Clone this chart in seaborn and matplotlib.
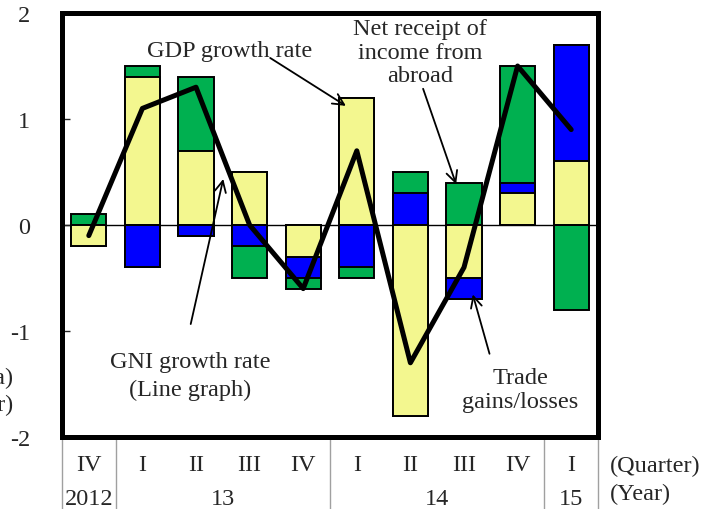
import numpy as np
import matplotlib
matplotlib.use('Agg')
import matplotlib.pyplot as plt
import seaborn as sns

quarters = ['IV', 'I', 'II', 'III', 'IV', 'I', 'II', 'III', 'IV', 'I']
years = ['2012', '13', '14', '15']
year_centers = [0, 2.5, 6.5, 9]
year_breaks = [-0.5, 0.5, 4.5, 8.5, 9.5]

gdp = np.array([-0.2, 1.4, 0.7, 0.5, -0.3, 1.2, -1.8, -0.5, 0.3, 0.6])
trade = np.array([0.0, -0.4, -0.1, -0.2, -0.2, -0.4, 0.3, -0.2, 0.1, 1.1])
income = np.array([0.1, 0.1, 0.7, -0.3, -0.1, -0.1, 0.2, 0.4, 1.1, -0.8])
gni = np.array([-0.1, 1.1, 1.3, 0.0, -0.6, 0.7, -1.3, -0.4, 1.5, 0.9])

yellow = '#F3F78F'
blue = '#0000FF'
green = '#00B050'

sns.set_style('white')
plt.rcParams['font.family'] = ['Liberation Serif', 'DejaVu Serif']
plt.rcParams['axes.unicode_minus'] = False
fs = 17.5

fig = plt.figure(figsize=(7.17, 5.10), dpi=100)
ax = fig.add_axes([62 / 717, 1 - 438 / 510, 536 / 717, 424 / 510])

x = np.arange(len(quarters))

# stacked bars: positive and negative parts stacked separately
py, pb, pg = gdp.clip(0), trade.clip(0), income.clip(0)
ny, nb, ng = gdp.clip(None, 0), trade.clip(None, 0), income.clip(None, 0)
layers = [
    (py + pb + pg, green), (ny + nb + ng, green),
    (py + pb, blue), (ny + nb, blue),
    (py, yellow), (ny, yellow),
]
ax.axhline(0, color='black', lw=1, zorder=0.5)
for vals, col in layers:
    sns.barplot(x=x, y=vals, native_scale=True, width=0.66, color=col,
                saturation=1, edgecolor='black', linewidth=1.4,
                errorbar=None, ax=ax)

sns.lineplot(x=x, y=gni, color='black', lw=3.6, ax=ax, zorder=5)

ax.set_xlim(-0.5, 9.5)
ax.set_ylim(-2, 2)
ax.set_xticks([])
ax.set_yticks([-2, -1, 0, 1, 2])
ax.set_yticklabels(['-2', '-1', '0', '1', '2'])
ax.tick_params(axis='y', direction='in', length=6, width=1, pad=23,
               labelsize=fs, left=True)
ax.set_xlabel('')
ax.set_ylabel('')
for s in ax.spines.values():
    s.set_visible(True)
    s.set_color('black')
    s.set_linewidth(3.6)

# annotations
arrow = dict(arrowstyle='->', lw=1.3, color='black', mutation_scale=20)
ax.text(2.63, 1.65, 'GDP growth rate', fontsize=fs, ha='center', va='center')
ax.annotate('', xy=(4.84, 1.11), xytext=(3.34, 1.59), arrowprops=arrow)

ax.text(6.18, 1.63, 'Net receipt of\nincome from\nabroad', fontsize=fs,
        ha='center', va='center', linespacing=1.15)
ax.annotate('', xy=(6.87, 0.36), xytext=(6.22, 1.31), arrowprops=arrow)

ax.text(8.05, -1.55, 'Trade\ngains/losses', fontsize=fs, ha='center',
        va='center', linespacing=1.2)
ax.annotate('', xy=(7.15, -0.63), xytext=(7.49, -1.24), arrowprops=arrow)

ax.text(1.89, -1.42, 'GNI growth rate\n(Line graph)', fontsize=fs,
        ha='center', va='center', linespacing=1.4)
ax.annotate('', xy=(2.52, 0.46), xytext=(1.89, -0.96), arrowprops=arrow)

# category table below the plot
tr = ax.get_xaxis_transform()
for b in year_breaks:
    ax.plot([b, b], [0, -0.2], transform=tr, color='#A0A0A0', lw=1,
            clip_on=False, zorder=0)
for i, q in enumerate(quarters):
    ax.text(i, -0.066, q, transform=tr, fontsize=fs, ha='center', va='center')
for yc, yl in zip(year_centers, years):
    ax.text(yc, -0.145, yl, transform=tr, fontsize=fs, ha='center', va='center')
ax.text(9.72, -0.066, '(Quarter)', transform=tr, fontsize=fs, ha='left', va='center')
ax.text(9.72, -0.134, '(Year)', transform=tr, fontsize=fs, ha='left', va='center')

# text cut off at the figure edges
fig.text(0.444, 1 + 7 / 510, '(Quarter-on-quarter percentage change, %)',
         fontsize=fs, ha='center', va='baseline')
fig.text(14 / 717, 1 - 378 / 510, '(a)', fontsize=fs, ha='right', va='center')
fig.text(14 / 717, 1 - 405 / 510, '(r)', fontsize=fs, ha='right', va='center')

fig.savefig('out.png', dpi=100)
